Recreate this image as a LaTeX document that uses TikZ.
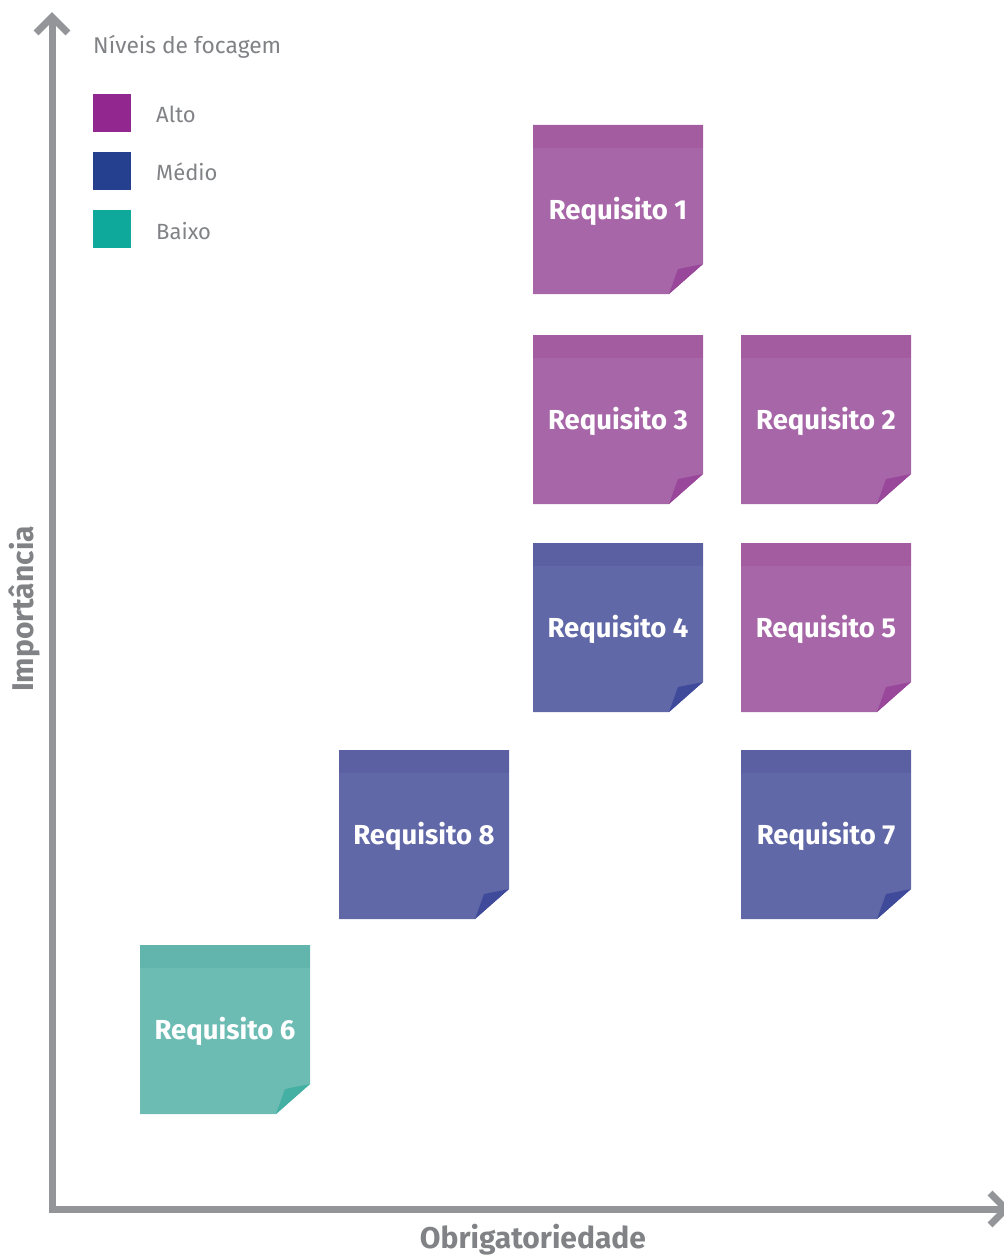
\documentclass[tikz,border=0pt]{standalone}
\usepackage{fontspec}
\setmainfont{Fira Sans}
\definecolor{axisgray}{HTML}{939598}
\definecolor{txtgray}{HTML}{808285}
\definecolor{pBody}{HTML}{A766A8}
\definecolor{pBand}{HTML}{A25C9F}
\definecolor{pFold}{HTML}{98479A}
\definecolor{bBody}{HTML}{6168A7}
\definecolor{bBand}{HTML}{5A60A2}
\definecolor{bFold}{HTML}{3F4A9B}
\definecolor{tBody}{HTML}{6DBCB4}
\definecolor{tBand}{HTML}{62B5AC}
\definecolor{tFold}{HTML}{44AFA3}
\definecolor{lgP}{HTML}{92278F}
\definecolor{lgB}{HTML}{25408F}
\definecolor{lgT}{HTML}{0FA99C}
\newcommand\stickynote[6]{%
  \fill[#4Body] (#2,#3) -- ++(170,0) -- ++(0,139) -- ++(-34,30) -- ++(-136,0) -- cycle;
  \fill[#4Band] (#2,#3) rectangle ++(170,23);
  \fill[#4Fold] ($(#2,#3)+(170,139)$) -- ($(#2,#3)+(145,144)$) -- ($(#2,#3)+(136,169)$) -- cycle;
  \node[notetext] (#1) at ($(#2,#3)+(85,86)$) {#6};
}
\usetikzlibrary{calc}
\tikzset{
  notetext/.style={text=white, font=\fontsize{27.5}{31}\selectfont\bfseries, inner sep=0pt},
  axisline/.style={draw=axisgray, line width=7pt, line join=miter},
  legbox/.style={minimum width=38pt, minimum height=38pt, inner sep=0pt, anchor=north west},
  legtext/.style={text=txtgray, font=\fontsize{22}{26}\selectfont, anchor=west, inner sep=0pt},
  axislabel/.style={text=txtgray, font=\fontsize{30}{34}\selectfont\bfseries, inner sep=0pt},
}
\begin{document}
\begin{tikzpicture}[x=1pt,y=-1pt]
\useasboundingbox (0,0) rectangle (1003,1257);
% axes
\coordinate (ytip) at (52,17);
\coordinate (origin) at (52,1209);
\coordinate (xtip) at (1006,1209);
\draw[axisline] (ytip) -- (origin) -- (xtip);
\draw[axisline] (36,33) -- (ytip) -- (68,33);
\draw[axisline] (990,1193) -- (xtip) -- (990,1225);
\node[axislabel] (xlab) at (533,1240) {Obrigatoriedade};
\node[axislabel, rotate=90] (ylab) at (24,609) {Importância};
% legend
\node[text=txtgray, font=\fontsize{22.8}{26}\selectfont, anchor=west, inner sep=0pt] (leghead) at (93,47) {Níveis de focagem};
\node[legbox, fill=lgP] (lgA) at (93,94) {};
\node[legbox, fill=lgB] (lgM) at (93,152) {};
\node[legbox, fill=lgT] (lgL) at (93,210) {};
\node[legtext] (lgAt) at (156,114) {Alto};
\node[legtext] (lgMt) at (156,172) {Médio};
\node[legtext] (lgLt) at (156,231) {Baixo};
% notes
\stickynote{r1}{533}{125}{p}{}{Requisito 1}
\stickynote{r3}{533}{335}{p}{}{Requisito 3}
\stickynote{r2}{741}{335}{p}{}{Requisito 2}
\stickynote{r4}{533}{543}{b}{}{Requisito 4}
\stickynote{r5}{741}{543}{p}{}{Requisito 5}
\stickynote{r8}{339}{750}{b}{}{Requisito 8}
\stickynote{r7}{741}{750}{b}{}{Requisito 7}
\stickynote{r6}{140}{945}{t}{}{Requisito 6}
\end{tikzpicture}
\end{document}
